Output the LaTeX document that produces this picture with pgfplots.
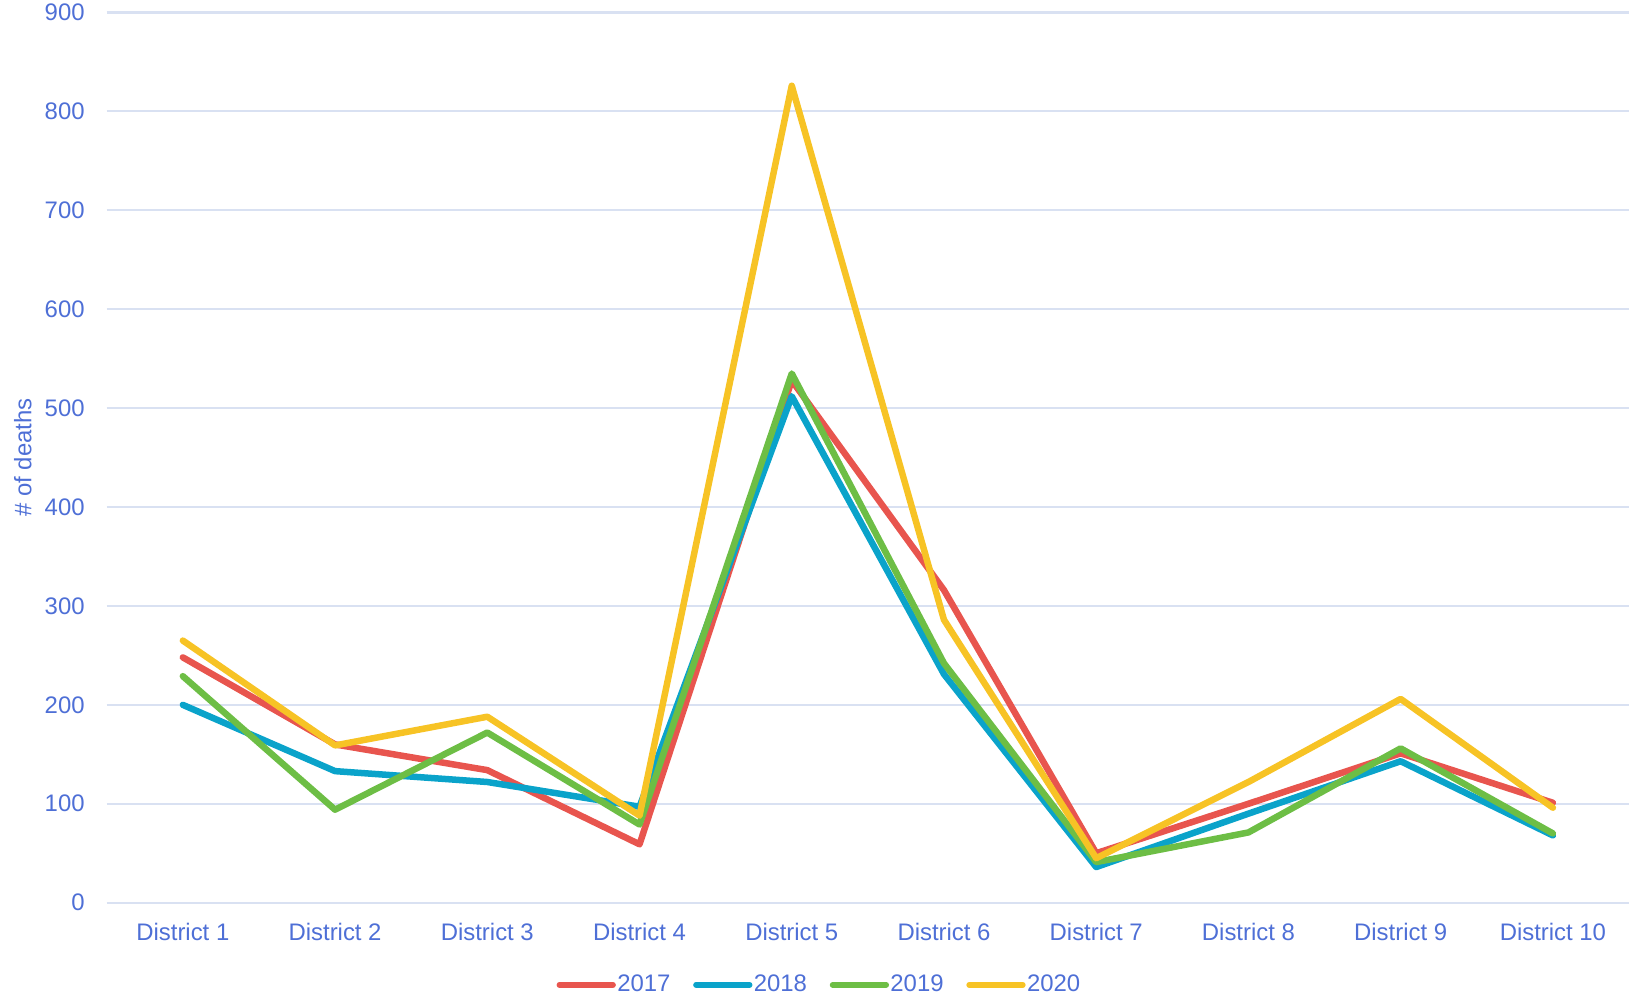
\documentclass[border=0pt]{standalone}
\usepackage{fontspec}
\setmainfont{Liberation Sans}
\usepackage{pgfplots}
\pgfplotsset{compat=1.18}

\definecolor{txt}{HTML}{4E6FD6}
\definecolor{gridc}{HTML}{D9E1F2}
\definecolor{c17}{HTML}{E8554E}
\definecolor{c18}{HTML}{0AA3CA}
\definecolor{c19}{HTML}{6DBE45}
\definecolor{c20}{HTML}{F7C325}

\newcommand{\lblfont}{\fontsize{10.3}{12}\selectfont}

\begin{document}
\begin{tikzpicture}
\useasboundingbox (-46pt,-40.8pt) rectangle (657.3pt,389pt);
\begin{axis}[
  at={(0pt,0pt)}, anchor=south west,
  scale only axis,
  width=656pt, height=383.6pt,
  xmin=0.5, xmax=10.5, ymin=0, ymax=900,
  xtick={1,...,10},
  xticklabels={District 1,District 2,District 3,District 4,District 5,
    District 6,District 7,District 8,District 9,District 10},
  ytick={0,100,...,900},
  axis line style={draw=none},
  major tick length=0pt,
  ymajorgrids,
  grid style={gridc, line width=0.9pt},
  tick label style={txt, font=\lblfont},
  x tick label style={yshift=-5.5pt},
  y tick label style={xshift=-6pt},
  /pgf/number format/assume math mode=true,
  ylabel={\# of deaths},
  every axis y label/.style={at={(axis description cs:0,0.5)}, xshift=-36.2pt,
    rotate=90, anchor=center, txt, font=\lblfont},
  legend style={at={(0.4675,-0.0923)}, anchor=center, draw=none, fill=none,
    legend columns=4, text=txt, font=\lblfont,
    nodes={inner sep=0pt},
    /tikz/every odd column/.append style={column sep=0.6pt},
    /tikz/every even column/.append style={column sep=9.8pt}},
  legend image code/.code={\draw[#1, line width=2.5pt, line cap=round] (1.25pt,0pt) -- (24.3pt,0pt);},
  every axis plot/.append style={line width=2.8pt, line join=round, line cap=round, mark=none},
]
\addplot[c17] coordinates {
  (1,248) (2,160) (3,134) (4,59) (5,528) (6,316) (7,50) (8,100) (9,151) (10,101)
};
\addplot[c18] coordinates {
  (1,200) (2,133) (3,122) (4,97) (5,512) (6,231) (7,36) (8,90) (9,143) (10,68)
};
\addplot[c19] coordinates {
  (1,229) (2,94) (3,172) (4,79) (5,535) (6,242) (7,41) (8,71) (9,156) (10,70)
};
\addplot[c20] coordinates {
  (1,265) (2,159) (3,188) (4,88) (5,826) (6,286) (7,45) (8,122) (9,206) (10,96)
};
\legend{2017,2018,2019,2020}
\end{axis}
\end{tikzpicture}
\end{document}
